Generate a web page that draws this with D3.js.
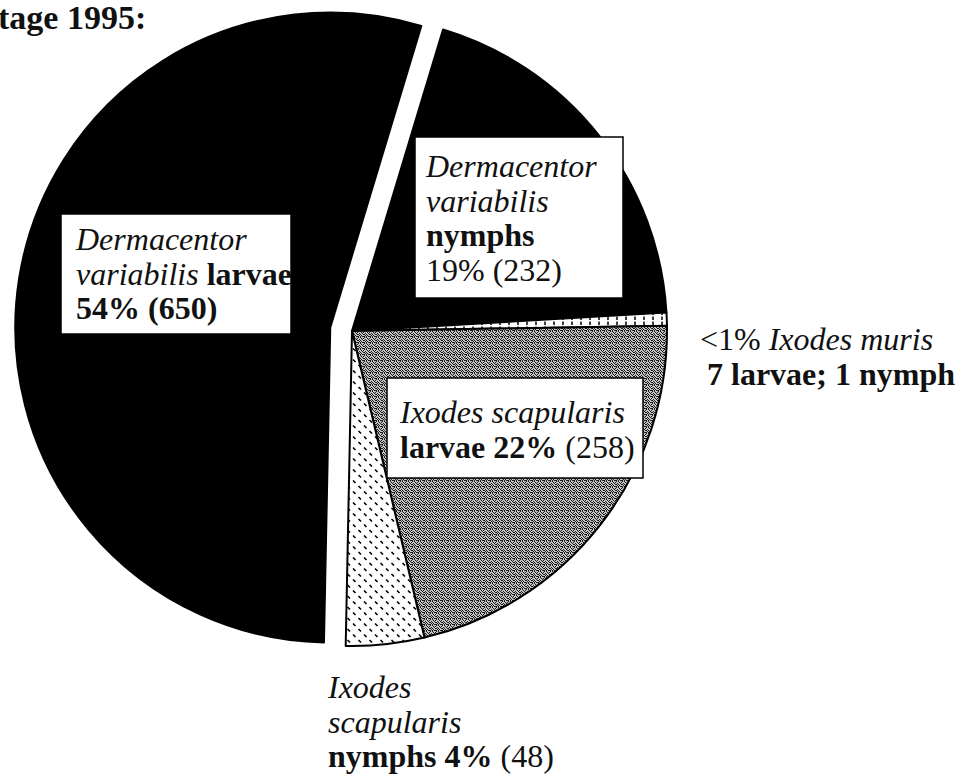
<!DOCTYPE html>
<html>
<head>
<meta charset="utf-8">
<script src="https://cdn.jsdelivr.net/npm/d3@7"></script>
<style>
  body { margin: 0; background: #fff; }
  svg { display: block; }
  svg text { font-family: "Liberation Serif", "Times New Roman", serif; }
</style>
</head>
<body>
<script>
// data (tick counts per stage / species)
const categories = ["Dermacentor variabilis nymphs", "Ixodes muris", "Ixodes scapularis larvae",
                    "Ixodes scapularis nymphs", "Dermacentor variabilis larvae"];
const counts = [232, 8, 258, 48, 650];
const percents = ["19%", "<1%", "22%", "4%", "54%"];
const murisStages = ["7 larvae", "1 nymph"];
const title = "tage 1995:";

const W = 961, H = 776;
const cx = 352, cy = 331, radius = 315;
const explode = 22;

const svg = d3.select("body").append("svg")
    .attr("width", W)
    .attr("height", H);

// fill patterns, imitating the scanned halftones
const defs = svg.append("defs");

const grey = defs.append("pattern")
    .attr("id", "grey")
    .attr("width", 6).attr("height", 6)
    .attr("patternUnits", "userSpaceOnUse");
grey.append("rect").attr("width", 6).attr("height", 6).attr("fill", "#c4c4c4");
[[0,0],[2,0],[3,1],[5,1],[1,2],[4,2],[0,3],[2,3],[5,3],[1,4],[3,4],[4,5],[0,5],[2,5],[5,5]]
    .forEach(p => grey.append("rect")
        .attr("x", p[0]).attr("y", p[1]).attr("width", 1).attr("height", 1)
        .attr("fill", "#1a1a1a"));

const dashes = defs.append("pattern")
    .attr("id", "dashes")
    .attr("width", 11).attr("height", 11)
    .attr("patternUnits", "userSpaceOnUse");
dashes.append("rect").attr("width", 11).attr("height", 11).attr("fill", "#fff");
dashes.append("line").attr("x1", 1).attr("y1", 6.5).attr("x2", 3.5).attr("y2", 9)
    .attr("stroke", "#000").attr("stroke-width", 1.6);
dashes.append("line").attr("x1", 6.5).attr("y1", 1).attr("x2", 9).attr("y2", 3.5)
    .attr("stroke", "#000").attr("stroke-width", 1.6);

const ticks = defs.append("pattern")
    .attr("id", "ticks")
    .attr("width", 9).attr("height", 5)
    .attr("patternUnits", "userSpaceOnUse");
ticks.append("rect").attr("width", 9).attr("height", 5).attr("fill", "#fff");
ticks.append("line").attr("x1", 4).attr("y1", 0.5).attr("x2", 4).attr("y2", 4)
    .attr("stroke", "#000").attr("stroke-width", 1.5);

const fills = ["#000", "url(#ticks)", "url(#grey)", "url(#dashes)", "#000"];

const pie = d3.pie()
    .sort(null)
    .startAngle(16.8 * Math.PI / 180)
    .endAngle(16.8 * Math.PI / 180 + 2 * Math.PI)
    .value(d => d);

const arc = d3.arc()
    .innerRadius(0)
    .outerRadius(radius);

const arcs = pie(counts);

const g = svg.append("g").attr("transform", `translate(${cx},${cy})`);

g.selectAll("path")
    .data(arcs)
    .enter().append("path")
    .attr("d", arc)
    .attr("fill", (d, i) => fills[i])
    .attr("stroke", "#000")
    .attr("stroke-width", 2)
    .attr("stroke-linejoin", "round")
    .attr("transform", (d, i) => {
        if (i !== 4) return null;
        const mid = (d.startAngle + d.endAngle) / 2;
        return `translate(${explode * Math.sin(mid)},${-explode * Math.cos(mid)})`;
    });

// label boxes and text
const labels = [
    { box: [61, 214, 230, 120], x: 76, y: 250, lines: [
        [["Dermacentor", "i"]],
        [["variabilis", "i"], ["larvae", "b"]],
        [[`${percents[4]} (${counts[4]})`, "b"]]
    ]},
    { box: [415, 137, 208, 161], x: 426, y: 177, lines: [
        [["Dermacentor", "i"]],
        [["variabilis", "i"]],
        [["nymphs", "b"]],
        [[`${percents[0]} (${counts[0]})`, "r"]]
    ]},
    { box: [387, 378, 256, 100], x: 400, y: 423, lines: [
        [["Ixodes scapularis", "i"]],
        [[`larvae ${percents[2]}`, "b"], [`(${counts[2]})`, "r"]]
    ]},
    { box: null, x: 700, y: 350, lines: [
        [[percents[1], "r"], ["Ixodes muris", "i"]],
        [[murisStages.join("; "), "b"]]
    ]},
    { box: null, x: 328, y: 698, lines: [
        [["Ixodes", "i"]],
        [["scapularis", "i"]],
        [[`nymphs ${percents[3]}`, "b"], [`(${counts[3]})`, "r"]]
    ]}
];

const lineH = 34.5, fontSize = 32, gapW = 8;

labels.forEach(l => {
    if (l.box) {
        svg.append("rect")
            .attr("x", l.box[0]).attr("y", l.box[1])
            .attr("width", l.box[2]).attr("height", l.box[3])
            .attr("fill", "#fff")
            .attr("stroke", "#000")
            .attr("stroke-width", 1.5);
    }
    l.lines.forEach((segs, j) => {
        // one text per segment, placed one after another
        let x = l.x + (j > 0 && !l.box && l.x === 700 ? 7 : 0);
        segs.forEach(s => {
            const t = svg.append("text")
                .attr("x", x)
                .attr("y", l.y + j * lineH)
                .attr("font-size", fontSize)
                .attr("font-style", s[1] === "i" ? "italic" : "normal")
                .attr("font-weight", s[1] === "b" ? "bold" : "normal")
                .attr("fill", "#111")
                .text(s[0]);
            x += t.node().getComputedTextLength() + gapW;
        });
    });
});

svg.append("text")
    .attr("x", -2)
    .attr("y", 29)
    .attr("font-size", 34)
    .attr("font-weight", "bold")
    .attr("fill", "#111")
    .text(title);
</script>
</body>
</html>
